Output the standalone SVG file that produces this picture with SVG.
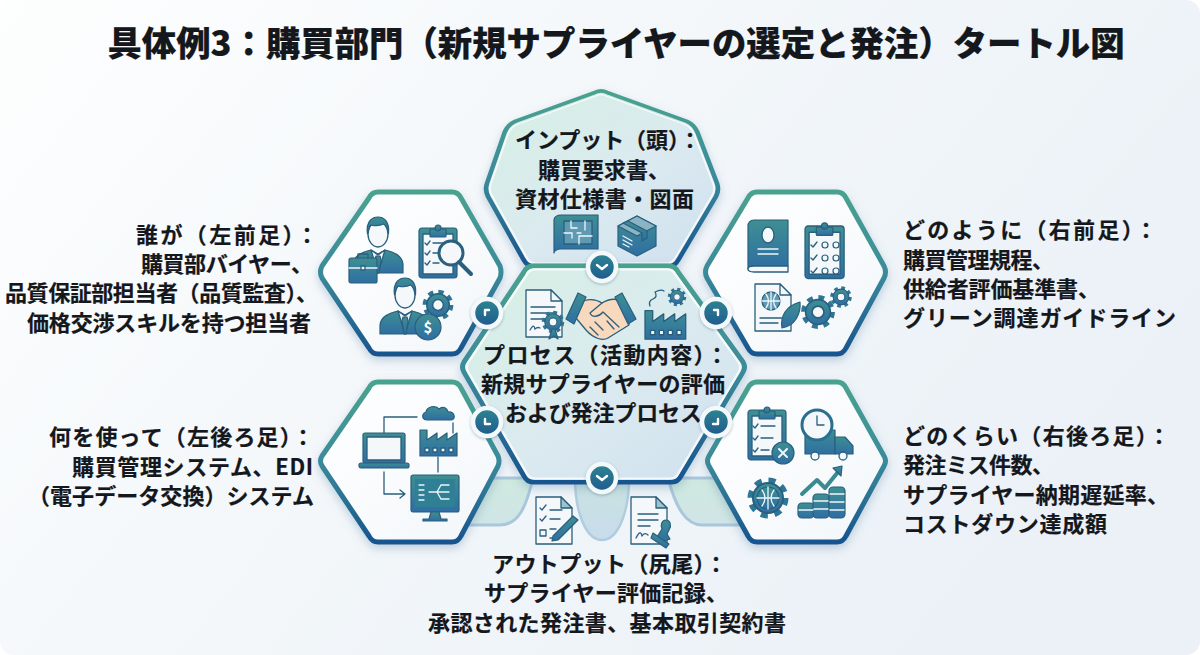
<svg xmlns="http://www.w3.org/2000/svg" xmlns:xlink="http://www.w3.org/1999/xlink" width="1200" height="655" viewBox="0 0 1200 655">
<style>
text{font-family:"Noto Sans CJK JP","Noto Sans",sans-serif;font-weight:700;fill:#14171c;font-size:22px;stroke:#14171c;stroke-width:.2}
.t{font-size:34.4px;font-weight:800}
.m{text-anchor:middle}
.hex{fill:url(#white);stroke:url(#edge);stroke-width:5;stroke-linejoin:round;filter:url(#sh)}
.in{fill:none;stroke:#fff;stroke-width:2.5;stroke-opacity:.75;stroke-linejoin:round}
.i{fill:url(#ic);stroke:#2a5f7d;stroke-width:1.2;stroke-linejoin:round}
.p{fill:#f4f8fa;stroke:#2a5f7d;stroke-width:1.3;stroke-linejoin:round}
.l{fill:none;stroke:#2a5f7d;stroke-width:1.3;stroke-linecap:round;stroke-linejoin:round}
.w{fill:none;stroke:#eef6f8;stroke-width:1.3;stroke-linecap:round}
.ring{fill:url(#bd);stroke:#f3f8fb;stroke-width:4.5;filter:url(#sh2)}
.ch{fill:none;stroke:#fff;stroke-width:2.4;stroke-linecap:round;stroke-linejoin:round}
.tl{fill:url(#tail);stroke:#a9c7dc;stroke-width:3;stroke-linejoin:round}
</style>
<defs>
<linearGradient id="bg" x1="0" y1="0" x2="1" y2=".45"><stop offset="0" stop-color="#fdfefe"/><stop offset=".5" stop-color="#f3f7fa"/><stop offset="1" stop-color="#ebf1f7"/></linearGradient>
<linearGradient id="edge" x1="0" y1="0" x2="0" y2="1"><stop offset="0" stop-color="#4aa28f"/><stop offset=".5" stop-color="#3a8a9a"/><stop offset="1" stop-color="#17548f"/></linearGradient>
<linearGradient id="ic" x1="0" y1="0" x2="0" y2="1"><stop offset="0" stop-color="#3e8f92"/><stop offset="1" stop-color="#2f6ea3"/></linearGradient>
<linearGradient id="bd" x1="0" y1="0" x2="0" y2="1"><stop offset="0" stop-color="#2f8592"/><stop offset="1" stop-color="#1d5a8e"/></linearGradient>
<linearGradient id="tint" x1="0" y1="0" x2="1" y2="1"><stop offset="0" stop-color="#d6f0e3"/><stop offset=".55" stop-color="#dbeaf0"/><stop offset="1" stop-color="#cfe0ee"/></linearGradient>
<linearGradient id="white" x1="0" y1="0" x2="1" y2="1"><stop offset="0" stop-color="#ffffff"/><stop offset="1" stop-color="#f3f7fa"/></linearGradient>
<linearGradient id="tail" x1="0" y1="0" x2="0" y2="1"><stop offset="0" stop-color="#cfe9df"/><stop offset="1" stop-color="#d0e5e6"/></linearGradient>
<linearGradient id="tail2" x1="0" y1="0" x2="0" y2="1"><stop offset="0" stop-color="#c9e2df"/><stop offset="1" stop-color="#c8dcec"/></linearGradient>
<filter id="sh" x="-15%" y="-15%" width="130%" height="130%"><feDropShadow dx="0" dy="4" stdDeviation="5" flood-color="#5d86a5" flood-opacity=".35"/></filter>
<filter id="sh2" x="-30%" y="-30%" width="160%" height="160%"><feDropShadow dx="0" dy="1" stdDeviation="1.5" flood-color="#32587a" flood-opacity=".4"/></filter>
<g id="gear"><circle r="8" fill="none" stroke="#2f7596" stroke-width="4.5" stroke-dasharray="3.2 3.08"/><circle r="7.5" fill="url(#ic)" stroke="#2a5f7d"/><circle r="3.6" fill="#f4f8fa" stroke="#2a5f7d"/></g>
<g id="person"><path class="i" d="M-25 27v-9c1-9 10-12 18-14l7 4 7-4c8 2 17 5 18 14v9z"/><path class="p" d="M-7 4L0 27 7 4 0 9z"/><path class="i" d="M-2 10h4l1 4-2 13h-2l-2-13z"/><ellipse class="p" cx="0" cy="-12" rx="10" ry="13"/><path class="i" d="M-10.500-12c-2-14 6-17 10.500-17s12 3 10.500 17c-1-6-3-9-5-10-4 2-11 2-13 1-1 2-2 5-3 9z"/></g>
<g id="clip"><rect class="i" width="38" height="50" rx="3"/><rect class="p" x="4" y="6" width="30" height="40"/><rect class="i" x="11" y="1" width="16" height="8" rx="1"/><circle class="i" cx="19" cy="0" r="3"/></g>
<g id="doc"><path class="p" d="M0 0h25l11 11v36H0z"/><path class="p" d="M25 0v11h11z"/></g>
<g id="fact"><path class="i" d="M0 32V6h7v10l10-7v7l10-7v7l10-7v23z"/><rect class="p" x="5" y="24" width="4" height="4"/><rect class="p" x="13" y="24" width="4" height="4"/><rect class="p" x="21" y="24" width="4" height="4"/><rect class="p" x="29" y="24" width="4" height="4"/></g>
</defs>
<rect width="1200" height="655" fill="#fff"/>
<rect width="1200" height="655" rx="14" fill="url(#bg)"/>
<text class="t m" x="616" y="56">具体例3：購買部門（新規サプライヤーの選定と発注）タートル図</text>

<g id="node-output">
<path class="tl" d="M470 478H533C526 508 518 525 500 525H450z"/>
<path class="tl" d="M668 478H735L755 525H702C686 525 676 508 668 478z"/>
<path d="M575 478h54c0 32-10 62-27 62s-27-30-27-62z" fill="url(#tail2)" stroke="#b0cde0" stroke-width="2.500"/>
<g transform="translate(536 497)"><path class="p" d="M0 0h25l11 11v36H0z"/><path class="p" d="M25 0v11h11z" style="fill:#9cc2cc"/><path class="l" d="M4 11l2 2 4-5M4 22l2 2 4-5M14 13h12M14 22h10M14 32h6M14 41h6"/><rect class="l" x="4" y="33" width="6" height="6"/><path class="i" d="M17 39l20-20 5 4-20 20-6 1z"/></g>
<g transform="translate(631 497)"><path class="p" d="M0 0h25l11 11v36H0z"/><path class="p" d="M25 0v11h11z" style="fill:#9cc2cc"/><path class="l" d="M7 17h20M7 23h20M7 29h12M5 41c3-6 5-7 6-2 2-3 4-3 6-1"/><path class="i" d="M26 40l5-8c-2-4 0-9 4-9s6 5 3 10l-2 4 3 5-8 3z"/><path class="i" d="M22 36l16 11-3 4-15-10z"/></g>
<text x="492" y="572" textLength="235">アウトプット（尻尾）：</text>
<text x="484" y="601" textLength="244">サプライヤー評価記録、</text>
<text x="428" y="631" textLength="358">承認された発注書、基本取引契約書</text>
</g>

<g id="node-input">
<path class="hex" d="M595 93L515 122Q508 125 505 132L487 184Q485 190 488 196L524 260Q527 266 533 266H669Q675 266 678 260L716 196Q719 190 717 184L697 132Q694 125 687 122L607 93Q601 90 595 93z" style="fill:url(#tint)"/>
<path class="in" transform="translate(602 178) scale(.97) translate(-602 -178)" d="M595 93L515 122Q508 125 505 132L487 184Q485 190 488 196L524 260Q527 266 533 266H669Q675 266 678 260L716 196Q719 190 717 184L697 132Q694 125 687 122L607 93Q601 90 595 93z"/>
<g transform="translate(553 215)"><path class="i" d="M8 0h37v34H8c-4 0-7 2-7 4V5c0-3 3-5 7-5z"/><path class="p" d="M11 6h28v23H11z" style="fill:#5f9ab5"/><path class="w" d="M18 6v7h6M32 6v9M11 18h8v5M26 29v-8h13M24 18h4"/></g>
<g transform="translate(637 236)"><path class="i" d="M0-20L19-10V10L0 20-19 10V-10z"/><path class="p" d="M0-20L19-10 0 0-19-10z" style="fill:#8ab4c4"/><path class="i" d="M-9-15L10-5v7l-5 3v-8l-19-10z"/><path class="w" d="M-14 0l9 5M-14 4l9 5M-14 8l6 3"/></g>
<text x="515" y="148" textLength="186">インプット（頭）：</text>
<text x="538" y="178" textLength="132">購買要求書、</text>
<text x="515" y="207" textLength="179">資材仕様書・図面</text>
</g>

<g id="node-who">
<path class="hex" d="M378 192H452Q458 192 461 198L500 266Q502 272 500 278L461 348Q458 354 452 354H378Q372 354 369 348L322 278Q319 272 322 266L369 198Q372 192 378 192z"/>
<use xlink:href="#person" href="#person" transform="translate(378 246)"/>
<g transform="translate(349 258)"><rect class="i" width="28" height="25" rx="2"/><path class="l" d="M9 0v-4h10v4"/><path class="w" d="M0 10h28"/><rect class="p" x="12" y="8" width="4" height="4"/></g>
<use xlink:href="#clip" href="#clip" transform="translate(419 228)"/>
<path class="l" d="M425 243l2 2 3-4M425 253l2 2 3-4M425 263l2 2 3-4M433 243h16M433 253h6M433 263h6"/>
<circle cx="451" cy="253" r="12" fill="#f4f8fa" stroke="#2a5f7d" stroke-width="3"/><path d="M459 262l12 12" stroke="#2a5f7d" stroke-width="4" stroke-linecap="round"/>
<use xlink:href="#gear" href="#gear" transform="translate(438 305) scale(1.5)"/>
<use xlink:href="#person" href="#person" transform="translate(405 307)"/>
<circle class="i" cx="428" cy="327" r="13" stroke="#f4f8fa"/>
<text x="428" y="333" style="font-size:15px;fill:#fff;stroke:none" class="m">$</text>
<text x="136" y="243" textLength="182">誰が（左前足）：</text>
<text x="141" y="272" textLength="172">購買部バイヤー、</text>
<text x="5" y="301" textLength="313">品質保証部担当者（品質監査）、</text>
<text x="27" y="331" textLength="284">価格交渉スキルを持つ担当者</text>
</g>

<g id="node-how">
<path class="hex" d="M757 192H837Q843 192 846 198L884 266Q887 272 884 278L846 348Q843 354 837 354H757Q751 354 748 348L707 278Q704 272 707 266L748 198Q751 192 757 192z"/>
<g transform="translate(748 220)"><path class="i" d="M6 0h34v46H6c-4 0-6 2-6 3V6c0-3 2-6 6-6z"/><path class="p" d="M0 49c0-2 2-3 6-3h34v6H6c-4 0-6-1-6-3z"/><ellipse class="p" cx="20" cy="15" rx="6" ry="8"/><path class="w" d="M10 29h20M10 34h20"/></g>
<use xlink:href="#clip" href="#clip" transform="translate(805 226) scale(1.03 1.05)"/>
<path class="l" d="M811 245l2 2 4-5M811 258l2 2 4-5M811 271l2 2 4-5"/>
<g fill="#f4f8fa" stroke="#2a5f7d" stroke-width="1.2"><circle cx="825" cy="245" r="3"/><circle cx="836" cy="245" r="3"/><circle cx="825" cy="258" r="3"/><circle cx="836" cy="258" r="3"/><circle cx="825" cy="271" r="3"/><circle cx="836" cy="271" r="3"/></g>
<use xlink:href="#doc" href="#doc" transform="translate(755 284)"/>
<circle class="p" cx="771" cy="301" r="9" style="fill:#5f9ab5"/><path class="w" d="M762 301h18M771 292v18M766 294q5 7 0 14M776 294q-5 7 0 14"/>
<path class="l" d="M760 318h22M760 323h18"/>
<path class="i" d="M782 328c-2-12 4-22 18-26 1 12-5 24-18 26z"/>
<use xlink:href="#gear" href="#gear" transform="translate(818 312) scale(1.65)"/>
<use xlink:href="#gear" href="#gear" transform="translate(841 297) scale(1.05)"/>
<text x="903" y="238" textLength="254">どのように（右前足）：</text>
<text x="903" y="268" textLength="151">購買管理規程、</text>
<text x="903" y="297" textLength="197">供給者評価基準書、</text>
<text x="903" y="326" textLength="273">グリーン調達ガイドライン</text>
</g>

<g id="node-process">
<path class="hex" d="M533 266H669Q675 266 678 272L743 362Q746 367 743 372L681 476Q678 482 672 482H533Q527 482 524 476L464 372Q461 367 464 362L524 272Q527 266 533 266z" style="fill:url(#tint)"/>
<path class="in" transform="translate(603 374) scale(.97) translate(-603 -374)" d="M533 266H669Q675 266 678 272L743 362Q746 367 743 372L681 476Q678 482 672 482H533Q527 482 524 476L464 372Q461 367 464 362L524 272Q527 266 533 266z"/>
<use xlink:href="#doc" href="#doc" transform="translate(526 290)"/>
<path class="l" d="M531 307h24M531 313h24M531 319h14M530 330c3-5 4-5 5-1 2-2 3-2 5-1"/>
<use xlink:href="#gear" href="#gear" transform="translate(553 322) scale(1.1)"/>
<path class="i" d="M549 339l3-10h3l3 10-4-3z"/>
<path d="M578 303c10-5 18-4 24 0 8-5 15-5 25 0l2 22-21 13c-5 3-14 1-22-8l-10-12z" fill="#f9d9bd" stroke="#2a5f7d" stroke-width="1.3" stroke-linejoin="round"/>
<path class="l" d="M602 303l-12 10c2 5 9 4 13-1l16 15M595 322l8 8M590 327l8 8M607 321l7 8"/>
<path class="i" d="M578 293l-12 26 8 5 12-27z"/><path class="i" d="M622 293l14 26-8 5-13-27z"/>
<use xlink:href="#fact" href="#fact" transform="translate(645 304) scale(1.1)"/>
<use xlink:href="#gear" href="#gear" transform="translate(677 297) scale(.9)"/>
<path class="l" d="M650 306q-2-5 3-7t2-7q6-3 9-1"/>
<text x="483" y="363" textLength="245">プロセス（活動内容）：</text>
<text x="481" y="392" textLength="244">新規サプライヤーの評価</text>
<text x="505" y="421" textLength="197">および発注プロセス</text>
</g>

<g id="node-with">
<path class="hex" d="M378 382H452Q458 382 461 388L498 456Q500 461 498 466L461 536Q458 542 452 542H378Q372 542 369 536L322 466Q319 461 322 456L369 388Q372 382 378 382z"/>
<path class="l" d="M384 437V417H417M384 472V494H405M400 490l5 4-5 4M438 457v15M453 423v10"/>
<g transform="translate(363 433)"><rect class="i" width="42" height="30" rx="2"/><rect class="p" x="4" y="4" width="34" height="23"/><rect class="i" x="-4" y="30" width="50" height="5" rx="2"/></g>
<path class="i" d="M427 420c-5 0-6-6-1-8 1-6 10-7 13-3 3-3 8-2 9 3 6-1 9 7 3 8z"/>
<use xlink:href="#fact" href="#fact" transform="translate(420 424) scale(1)"/>
<g transform="translate(411 475)"><rect class="i" width="48" height="37" rx="2"/><rect x="4" y="4" width="40" height="28" fill="#2f7f95"/><path class="w" d="M8 10h5M8 15h5M8 20h5M8 25h5M18 17h8M26 17l4-7h8M26 17h12M26 17l4 7h8"/><path class="i" d="M20 37h8l2 7h6v2H12v-2h6z"/></g>
<text x="49" y="445" textLength="265">何を使って（左後ろ足）：</text>
<text x="72" y="475" textLength="241">購買管理システム、EDI</text>
<text x="28" y="504" textLength="286">（電子データ交換）システム</text>
</g>

<g id="node-much">
<path class="hex" d="M757 382H837Q843 382 846 388L884 456Q887 461 884 466L846 536Q843 542 837 542H757Q751 542 748 536L709 466Q706 461 709 456L748 388Q751 382 757 382z"/>
<use xlink:href="#clip" href="#clip" transform="translate(748 410)"/>
<path class="l" d="M753 426l2 2 3-4M753 438l2 2 3-4M753 450l2 2 3-4M761 426h14M761 438h12M761 450h8"/>
<circle class="i" cx="783" cy="453" r="11"/><path class="w" d="M779 449l8 8M787 449l-8 8" style="stroke-width:2"/>
<g><path class="i" d="M805 430h30v24h-30z"/><path class="i" d="M835 437h10l8 9v8h-18z"/><circle class="p" cx="815" cy="456" r="4"/><circle class="p" cx="843" cy="456" r="4"/><circle cx="817" cy="425" r="15" fill="#f4f8fa" stroke="#2a6f90" stroke-width="3"/><path class="l" d="M817 416v9h7"/></g>
<use xlink:href="#gear" href="#gear" transform="translate(768 498) scale(2)"/>
<circle class="i" cx="768" cy="498" r="11"/><path class="w" d="M757 498h22M768 487v22M762 490q6 8 0 16M774 490q-6 8 0 16"/>
<path class="l" d="M802 494l15-14 8 8 13-16" style="stroke-width:4;stroke:#3a8a92"/><path class="i" d="M833 468l9-2-1 10z"/>
<g class="i"><rect class="i" x="798" y="503" width="16" height="15" rx="4"/><rect class="i" x="813" y="494" width="16" height="24" rx="4"/><rect class="i" x="829" y="487" width="16" height="31" rx="4"/></g>
<path class="w" d="M799 510h14M814 501h14M814 509h14M830 494h14M830 502h14M830 510h14"/>
<text x="903" y="444" textLength="267">どのくらい（右後ろ足）：</text>
<text x="903" y="473" textLength="151">発注ミス件数、</text>
<text x="903" y="503" textLength="266">サプライヤー納期遅延率、</text>
<text x="903" y="532" textLength="204">コストダウン達成額</text>
</g>

<g id="connectors">
<circle class="ring" cx="602" cy="267" r="14"/><path class="ch" d="M597 265l5 4 5-4"/>
<circle class="ring" cx="602" cy="478" r="14"/><path class="ch" d="M597 476l5 4 5-4"/>
<circle class="ring" cx="487" cy="313" r="14"/><path class="ch" d="M489 310h-4v5"/>
<circle class="ring" cx="716" cy="313" r="14"/><path class="ch" d="M714 310h4v5"/>
<circle class="ring" cx="487" cy="422" r="14"/><path class="ch" d="M485 419v5h5"/>
<circle class="ring" cx="716" cy="422" r="14"/><path class="ch" d="M718 419v5h-5"/>
</g>
</svg>
